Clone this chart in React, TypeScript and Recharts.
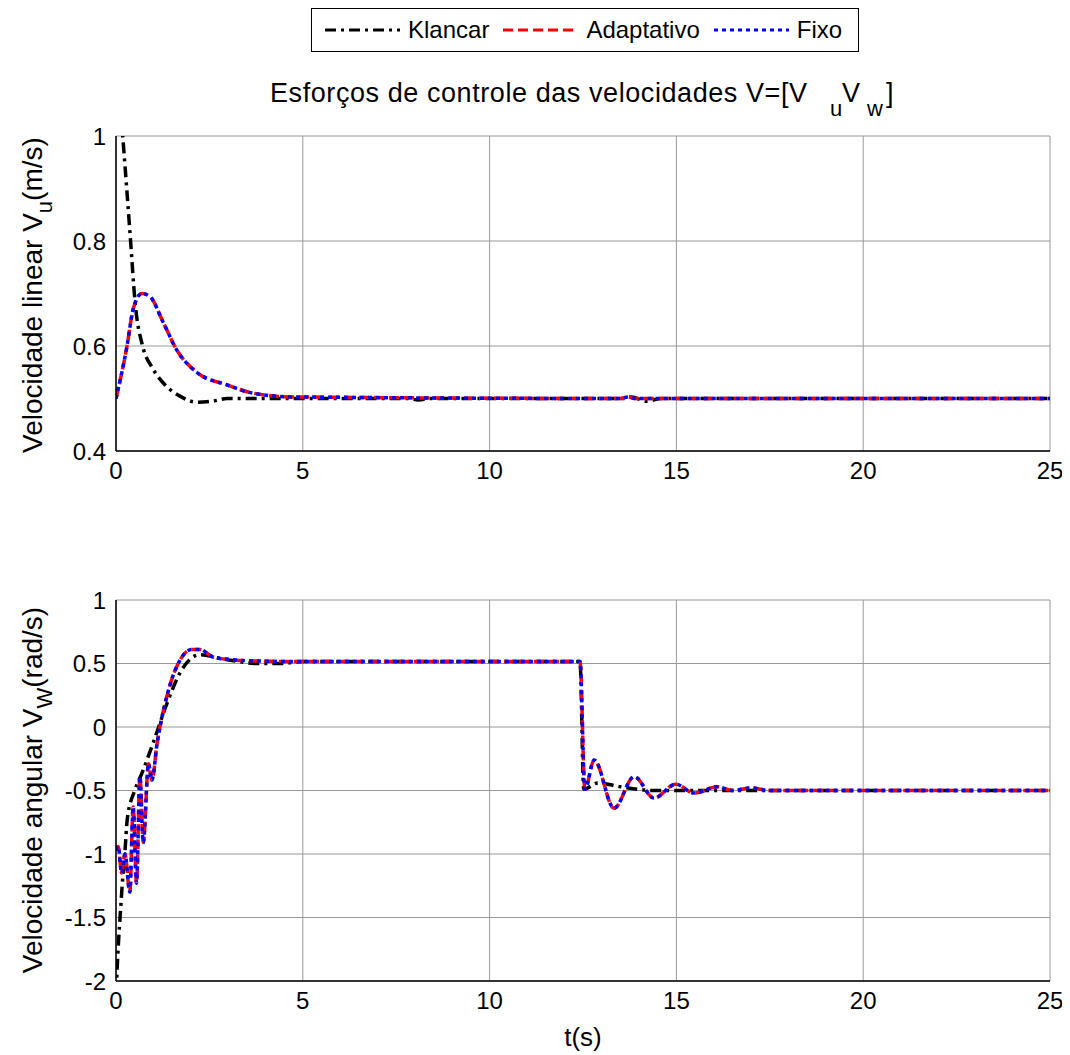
import React from 'react';
import { LineChart, Line, XAxis, YAxis, CartesianGrid, Legend } from 'recharts';

// ---- tick labels ----
const T_TICKS = [0, 5, 10, 15, 20, 25];
const VU_TICKS = [0.4, 0.6, 0.8, 1];
const VW_TICKS = [-2, -1.5, -1, -0.5, 0, 0.5, 1];

// ---- linear velocity V_u ----
const klancarTopT = [0, 0.18, 0.29, 0.39, 0.51, 0.72, 0.96, 1.26, 1.7, 2.17, 2.6, 2.97, 5, 7.8, 8.1, 8.4, 13.6, 13.8, 14.2, 14.6, 25];
const klancarTopV = [1.17, 1.0, 0.897, 0.8, 0.684, 0.598, 0.56, 0.53, 0.505, 0.493, 0.495, 0.5, 0.5, 0.5, 0.497, 0.5, 0.5, 0.503, 0.495, 0.5, 0.5];

const adaptTopT = [0, 0.29, 0.46, 0.69, 0.91, 1.27, 1.63, 2.16, 2.97, 3.68, 4.76, 13.5, 13.7, 13.9, 25];
const adaptTopV = [0.5, 0.598, 0.67, 0.7, 0.694, 0.644, 0.592, 0.55, 0.526, 0.51, 0.503, 0.5, 0.503, 0.5, 0.5];

const fixoTopT = [0, 0.29, 0.46, 0.69, 0.91, 1.27, 1.63, 2.16, 2.97, 3.68, 4.76, 13.5, 13.7, 13.9, 25];
const fixoTopV = [0.5, 0.598, 0.67, 0.7, 0.694, 0.644, 0.592, 0.55, 0.526, 0.51, 0.503, 0.5, 0.503, 0.5, 0.5];

// ---- angular velocity V_w ----
const klancarBotT = [0, 0.06, 0.12, 0.19, 0.24, 0.3, 0.5, 0.7, 1.0, 1.37, 1.72, 2.25, 2.79, 3.2, 3.7, 4.4, 5, 12.42, 12.52, 12.9, 13.5, 14.4, 25];
const klancarBotV = [-2.1, -1.73, -1.45, -1.15, -0.98, -0.73, -0.5, -0.36, -0.12, 0.19, 0.43, 0.57, 0.54, 0.52, 0.5, 0.5, 0.515, 0.515, -0.49, -0.44, -0.47, -0.5, -0.5];

const adaptBotT = [0, 0.06, 0.15, 0.24, 0.37, 0.46, 0.55, 0.64, 0.73, 0.87, 0.96, 1.1, 1.36, 1.72, 2.03, 2.25, 2.6, 3.1, 3.7, 5, 12.42, 12.55, 12.8, 13.33, 13.87, 14.4, 14.98, 15.47, 16.1, 16.5, 17.0, 17.5, 25];
const adaptBotV = [-0.97, -0.94, -1.15, -1.0, -1.3, -0.63, -1.23, -0.39, -0.91, -0.29, -0.42, -0.13, 0.24, 0.53, 0.61, 0.61, 0.55, 0.53, 0.52, 0.515, 0.515, -0.49, -0.26, -0.64, -0.39, -0.56, -0.45, -0.52, -0.47, -0.5, -0.48, -0.5, -0.5];

const fixoBotT = [0, 0.06, 0.15, 0.24, 0.37, 0.46, 0.55, 0.64, 0.73, 0.87, 0.96, 1.1, 1.36, 1.72, 2.03, 2.25, 2.6, 3.1, 3.7, 5, 12.42, 12.55, 12.8, 13.33, 13.87, 14.4, 14.98, 15.47, 16.1, 16.5, 17.0, 17.5, 25];
const fixoBotV = [-0.97, -0.94, -1.15, -1.0, -1.3, -0.63, -1.23, -0.39, -0.91, -0.29, -0.42, -0.13, 0.24, 0.53, 0.61, 0.61, 0.55, 0.53, 0.52, 0.515, 0.515, -0.49, -0.26, -0.64, -0.39, -0.56, -0.45, -0.52, -0.47, -0.5, -0.48, -0.5, -0.5];

const SERIES_NAMES = ['Klancar', 'Adaptativo', 'Fixo'];

const rows = (t: number[], v: number[]) => t.map((x, i) => ({ t: x, v: v[i] }));

const FONT = '"Liberation Sans", Arial, sans-serif';
const STYLES: Record<string, { color: string; dash: string; width: number }> = {
  Klancar: { color: '#000000', dash: '11 5 3 5', width: 3.5 },
  Adaptativo: { color: '#ff0000', dash: '10 5', width: 3.5 },
  Fixo: { color: '#0000ff', dash: '4 4', width: 3.5 },
};

const tickStyle = { fill: '#000', fontSize: 24, fontFamily: FONT };

const LegendBox = () => (
  <div
    style={{
      border: '1.5px solid #000',
      background: '#fff',
      height: 44,
      width: 548,
      boxSizing: 'border-box',
      display: 'flex',
      alignItems: 'center',
      fontFamily: FONT,
      fontSize: 24,
      color: '#000',
      paddingLeft: 13,
      whiteSpace: 'nowrap',
    }}
  >
    {SERIES_NAMES.map((name) => {
      const s = STYLES[name];
      return (
        <span key={name} style={{ display: 'flex', alignItems: 'center', marginRight: 14 }}>
          <svg width={75} height={10} style={{ marginRight: 8 }}>
            <line x1={0} y1={5} x2={75} y2={5} stroke={s.color} strokeWidth={3} strokeDasharray={s.dash} />
          </svg>
          <span>{name}</span>
        </span>
      );
    })}
  </div>
);

const YLabel = ({ x, y, main, sub, rest }: { x: number; y: number; main: string; sub: string; rest: string }) => (
  <text
    x={x}
    y={y}
    transform={`rotate(-90, ${x}, ${y})`}
    textAnchor="middle"
    fontFamily={FONT}
    fontSize={28}
    fill="#000"
  >
    {main}
    <tspan dy={10} fontSize={22}>{sub}</tspan>
    <tspan dy={-10}>{rest}</tspan>
  </text>
);

const seriesLines = (k: any[], a: any[], f: any[]) => [
  <Line key="k" data={k} dataKey="v" name={SERIES_NAMES[0]} type="monotone" stroke={STYLES.Klancar.color} strokeWidth={STYLES.Klancar.width} strokeDasharray={STYLES.Klancar.dash} dot={false} isAnimationActive={false} />,
  <Line key="a" data={a} dataKey="v" name={SERIES_NAMES[1]} type="monotone" stroke={STYLES.Adaptativo.color} strokeWidth={STYLES.Adaptativo.width} strokeDasharray={STYLES.Adaptativo.dash} dot={false} isAnimationActive={false} />,
  <Line key="f" data={f} dataKey="v" name={SERIES_NAMES[2]} type="monotone" stroke={STYLES.Fixo.color} strokeWidth={STYLES.Fixo.width} strokeDasharray={STYLES.Fixo.dash} dot={false} isAnimationActive={false} />,
];

const boxAxes = (domainY: [number, number]) => [
  <XAxis key="xt" xAxisId="top" orientation="top" type="number" domain={[0, 25]} height={0} tick={false} tickLine={false} axisLine={{ stroke: '#000', strokeWidth: 1.5 }} />,
  <YAxis key="yr" yAxisId="right" orientation="right" type="number" domain={domainY} width={0} tick={false} tickLine={false} axisLine={{ stroke: '#000', strokeWidth: 1.5 }} />,
];

export default function App() {
  return (
    <div style={{ position: 'relative', width: 1054, height: 1046, background: '#fff' }}>
      <svg style={{ position: 'absolute', left: 0, top: 0 }} width={1054} height={130}>
        <text y={94} fontFamily={FONT} fontSize={27} fill="#000">
          <tspan x={262} textLength={537} lengthAdjust="spacing">Esforços de controle das velocidades V=[V</tspan>
          <tspan x={822} dy={14} fontSize={22}>u</tspan>
          <tspan x={834} dy={-14}>V</tspan>
          <tspan x={859} dy={14} fontSize={22}>w</tspan>
          <tspan x={878} dy={-14}>]</tspan>
        </text>
      </svg>

      <div style={{ position: 'absolute', left: 0, top: 0 }}>
        <LineChart width={1054} height={480} margin={{ top: 128, right: 12, left: 48, bottom: 7 }}>
          <CartesianGrid stroke="#9a9a9a" strokeWidth={1} />
          <XAxis dataKey="t" type="number" domain={[0, 25]} ticks={T_TICKS} allowDataOverflow height={30} tickLine={false} axisLine={{ stroke: '#000', strokeWidth: 1.5 }} tick={tickStyle} tickMargin={5} />
          <YAxis type="number" domain={[0.4, 1]} ticks={VU_TICKS} allowDataOverflow width={60} tickLine={false} axisLine={{ stroke: '#000', strokeWidth: 1.5 }} tick={tickStyle} tickMargin={4}
            label={{ content: () => <YLabel x={34} y={287} main="Velocidade linear V" sub="u" rest="(m/s)" /> }} />
          {boxAxes([0.4, 1])}
          {seriesLines(rows(klancarTopT, klancarTopV), rows(adaptTopT, adaptTopV), rows(fixoTopT, fixoTopV))}
          <Legend layout="vertical" align="center" verticalAlign="middle" content={<LegendBox />} wrapperStyle={{ position: 'absolute', top: 0, left: 303, width: 548, height: 44 }} />
        </LineChart>
      </div>

      <div style={{ position: 'absolute', left: 0, top: 480 }}>
        <LineChart width={1054} height={566} margin={{ top: 112, right: 12, left: 48, bottom: 43 }}>
          <CartesianGrid stroke="#9a9a9a" strokeWidth={1} />
          <XAxis dataKey="t" type="number" domain={[0, 25]} ticks={T_TICKS} allowDataOverflow height={30} tickLine={false} axisLine={{ stroke: '#000', strokeWidth: 1.5 }} tick={tickStyle} tickMargin={5}
            label={{ content: () => <text x={575} y={558} textAnchor="middle" fontFamily={FONT} fontSize={26} fill="#000">t(s)</text> }} />
          <YAxis type="number" domain={[-2, 1]} ticks={VW_TICKS} allowDataOverflow width={60} tickLine={false} axisLine={{ stroke: '#000', strokeWidth: 1.5 }} tick={tickStyle} tickMargin={4}
            label={{ content: () => <YLabel x={34} y={302} main="Velocidade angular V" sub="W" rest="(rad/s)" /> }} />
          {boxAxes([-2, 1])}
          {seriesLines(rows(klancarBotT, klancarBotV), rows(adaptBotT, adaptBotV), rows(fixoBotT, fixoBotV))}
        </LineChart>
      </div>
    </div>
  );
}
